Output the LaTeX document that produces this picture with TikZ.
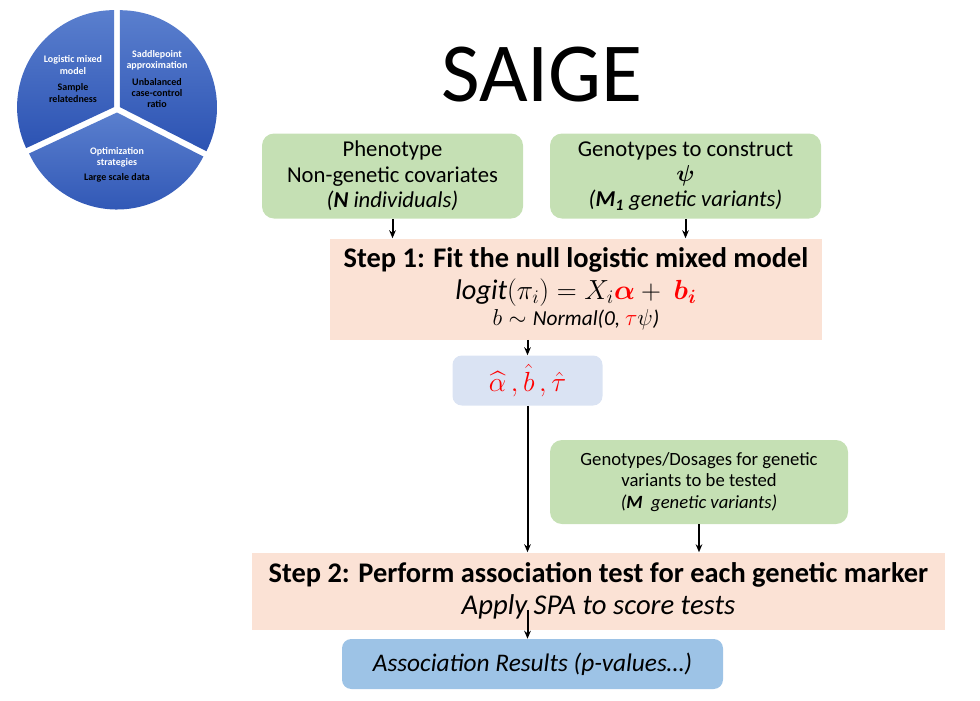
\documentclass[tikz,border=0pt]{standalone}
\usepackage{fontspec}
\setmainfont{Carlito}
\usepackage{amsmath}
\usepackage{xcolor}
\usepackage{tikz}
\usetikzlibrary{positioning}
\usetikzlibrary{calc}
\usetikzlibrary{arrows.meta}

\definecolor{grnfill}{HTML}{C5E0B4}
\definecolor{peach}{HTML}{FBE2D5}
\definecolor{paleblue}{HTML}{DAE3F3}
\definecolor{resblue}{HTML}{9DC3E6}
\definecolor{pietop}{HTML}{5A7FCE}
\definecolor{piebot}{HTML}{2C53B3}

\begin{document}
\begin{tikzpicture}
    [%%%%%%%%%%%%%%%%%%%%%%%%%%%%%%
        x=0.75pt, y=-0.75pt,
        greenbox/.style={rectangle, rounded corners=9pt, fill=grnfill, inner sep=0pt, align=center, font=\fontsize{17}{19}\selectfont},
        stepbox/.style={rectangle, fill=peach, inner sep=0pt, align=center, font=\fontsize{21.3}{23.5}\selectfont},
        bluebox/.style={rectangle, rounded corners=7pt, inner sep=0pt, align=center},
        pietext/.style={align=center, font=\fontsize{7.5}{8.5}\selectfont\bfseries},
        arr/.style={-{Stealth[length=6pt,width=5pt]}, line width=1.5pt}
    ]%%%%%%%%%%%%%%%%%%%%%%%%%%%%%%

\useasboundingbox (0,0) rectangle (980,700);

% pie in the corner
\begin{scope}[shift={(117,109)}, y=0.75pt]
\foreach \a/\b in {90/205,205/333,333/450}{
    \pgfmathsetmacro{\m}{(\a+\b)/2}
    \shade[top color=pietop, bottom color=piebot] (\m:3.5) -- ++(\a:97) arc (\a:\b:97) -- cycle;
}
\end{scope}

\node[pietext, white] (lmm) at (73,65) {Logistic mixed\\model};
\node[pietext] (rel) at (73,93) {Sample\\relatedness};
\node[pietext, white] (spa) at (157,60) {Saddlepoint\\approximation};
\node[pietext] (unb) at (157,93) {Unbalanced\\case-control\\ratio};
\node[pietext, white] (opt) at (117,157) {Optimization\\strategies};
\node[pietext] (large) at (117,178) {Large scale data};

\node[font=\fontsize{63}{70}\selectfont] (title) at (542,75) {SAIGE};

% inputs
\node[greenbox, minimum width=195.75pt, minimum height=63.75pt] (pheno) at (392.5,176)
    {Phenotype\\Non-genetic covariates\\\textit{(\textbf{N} individuals)}};
\node[greenbox, minimum width=203.25pt, minimum height=63.75pt] (geno) at (685.5,176)
    {Genotypes to construct\\$\boldsymbol{\psi}$\\\textit{(\textbf{M\textsubscript{1}} genetic variants)}};

% step 1
\node[stepbox, minimum width=369pt, minimum height=75.75pt] (stepone) at (576,289)
    {\textbf{Step 1: Fit the null logistic mixed model}\\
     $\mathit{logit}(\pi_i) = X_i\textcolor{red}{\boldsymbol{\alpha}} +\ \textcolor{red}{\boldsymbol{b_i}}$\\[-3.5pt]
     {\fontsize{16}{19}\selectfont $b\sim \mathit{Normal}$\textit{(0, }$\textcolor{red}{\tau}\psi$\textit{)}}};

\node[bluebox, fill=paleblue, minimum width=112.5pt, minimum height=37.5pt, font=\fontsize{20}{24}\selectfont] (est) at (527.5,380.5)
    {$\textcolor{red}{\widehat{\alpha}\,,\hat{b}\,,\hat{\tau}}$};

\node[greenbox, minimum width=223.5pt, minimum height=63pt, font=\fontsize{14}{16}\selectfont] (dosage) at (699,482)
    {Genotypes/Dosages for genetic\\variants to be tested\\\textit{(\textbf{M}\ \ genetic variants)}};

% step 2
\node[stepbox, minimum width=519.75pt, minimum height=57.75pt, font=\fontsize{21.3}{24}\selectfont] (steptwo) at (598.5,591)
    {\textbf{Step 2: Perform association test for each genetic marker}\\
     {\fontsize{21.5}{24}\selectfont\itshape Apply SPA to score tests}};

\node[bluebox, fill=resblue, minimum width=285.75pt, minimum height=37.5pt, font=\fontsize{19}{22}\selectfont\itshape] (res) at (532.5,664)
    {Association Results (p-values…)};

\draw[arr] (pheno.south) -- (pheno.south |- stepone.north);
\draw[arr] (geno.south) -- (geno.south |- stepone.north);
\draw[arr] (est.north |- stepone.south) -- (est.north);
\draw[arr] (est.south) -- (est.south |- steptwo.north);
\draw[arr] (dosage.south) -- (dosage.south |- steptwo.north);
\draw[arr] ($(est.south |- steptwo.south)+(0,-20)$) -- (est.south |- res.north);

\end{tikzpicture}
\end{document}
